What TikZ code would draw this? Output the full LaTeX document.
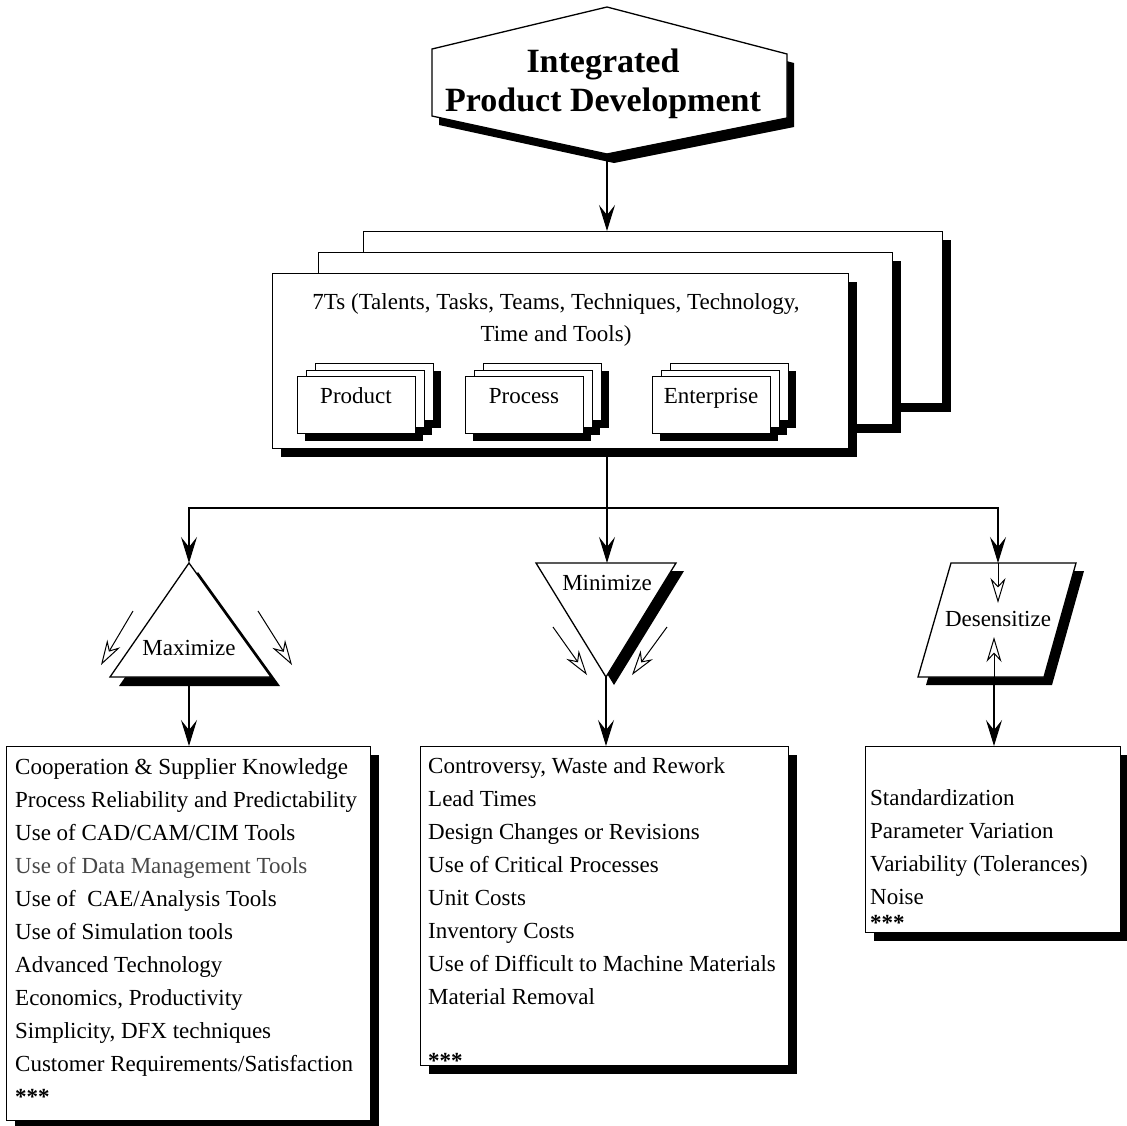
\documentclass[tikz,border=0pt]{standalone}
\usepackage{fontspec}
\setmainfont{Liberation Serif}
\usetikzlibrary{arrows.meta,calc,shadows}

\tikzset{
  outline/.style={draw=black, line width=1.3pt, fill=white},
  dropsh/.style={drop shadow={shadow xshift=8pt, shadow yshift=-8pt, fill=black, opacity=1}},
  card/.style={outline, rectangle, inner sep=0pt, anchor=north west},
  wire/.style={line width=1.3pt, -{Stealth[length=26pt, width=16pt, inset=10pt]}},
  plainwire/.style={line width=1.3pt},
  hollow/.style={line width=1pt, -{Stealth[open, length=25pt, width=15pt, inset=8pt, fill=white]}},
  txt/.style={font=\fontsize{23}{33}\selectfont, inner sep=0pt},
  listtxt/.style={txt, align=left, anchor=north west},
}

% a stack of three cards with one common shadow behind it
\newcommand\cardstack[4]{%
  \foreach \k in {2,1,0}
    \fill[black] (#1+9*\k+8, #2-6.5*\k+8) rectangle ++(118,57);
  \foreach \k in {2,1,0}
    \node[card, minimum width=118pt, minimum height=57pt] (#3\k) at (#1+9*\k, #2-6.5*\k) {};
  \node[txt, anchor=base] (#3lab) at (#1+59, #2+27) {#4};
}

\begin{document}
\begin{tikzpicture}[x=1pt, y=-1pt]
\useasboundingbox (0,0) rectangle (1127,1125);

% title hexagon
\draw[outline, drop shadow={shadow xshift=7pt, shadow yshift=-9pt, fill=black, opacity=1}]
  (432,49) -- (607,7) -- (787,54) -- (787,118) -- (607,154) -- (432,116) -- cycle;
\node[font=\bfseries\fontsize{34}{39}\selectfont, align=center, inner sep=0pt] (ipd) at (603,84)
  {Integrated\\Product Development};
\coordinate (hexbot) at (607,154);

% stacked 7Ts sheets
\node[card, dropsh, minimum width=579pt, minimum height=172pt] (back) at (363,231) {};
\node[card, dropsh, minimum width=574pt, minimum height=172pt] (mid) at (318,252) {};
\node[card, dropsh, minimum width=576pt, minimum height=175pt] (front) at (272,273) {};
\node[txt, align=center, font=\fontsize{23}{32}\selectfont] (seventees) at (556,320)
  {7Ts (Talents, Tasks, Teams, Techniques, Technology,\\Time and Tools)};

\cardstack{297}{376}{prod}{Product}
\cardstack{465}{376}{proc}{Process}
\cardstack{652}{376}{ent}{Enterprise}

\draw[wire] (hexbot) -- (hexbot |- back.north);

% branching
\coordinate (split) at (607,508);
\coordinate (maxtop) at (189,563);
\coordinate (mintop) at (607,563);
\coordinate (destop) at (998,563);
\draw[plainwire] (front.south -| split) -- (split);
\draw[wire] (split) -| (maxtop);
\draw[wire] (split) -- (mintop);
\draw[wire] (split) -| (destop);

% maximize triangle
\draw[outline, drop shadow={shadow xshift=9pt, shadow yshift=-9pt, fill=black, opacity=1}]
  (189,563) -- (271,677) -- (110,677) -- cycle;
\node[txt, anchor=base] (maxlab) at (189,655) {Maximize};
\coordinate (maxout) at (189,686);
\coordinate (mxla) at (133,611); \coordinate (mxlb) at (101,665);
\coordinate (mxra) at (258,611); \coordinate (mxrb) at (292,665);
\draw[hollow] (mxla) -- (mxlb);
\draw[hollow] (mxra) -- (mxrb);

% minimize triangle
\draw[outline, dropsh] (536,563) -- (676,563) -- (606,677) -- cycle;
\node[txt, anchor=base] (minlab) at (607,590) {Minimize};
\coordinate (minout) at (606,677);
\coordinate (mnla) at (553,627); \coordinate (mnlb) at (587,675);
\coordinate (mnra) at (667,627); \coordinate (mnrb) at (632,675);
\draw[hollow] (mnla) -- (mnlb);
\draw[hollow] (mnra) -- (mnrb);

% desensitize parallelogram
\draw[outline, dropsh] (951,563) -- (1076,563) -- (1044,677) -- (918,677) -- cycle;
\node[txt, anchor=base] (deslab) at (998,626) {Desensitize};
\coordinate (desin) at (998,603);
\coordinate (desout) at (994,677);
\coordinate (desup) at (994,637);
\draw[hollow] (destop) -- (desin);
\draw[hollow] (desout) -- (desup);

% result lists
\node[card, dropsh, minimum width=364pt, minimum height=374pt] (llist) at (6,746) {};
\node[card, dropsh, minimum width=368pt, minimum height=319pt] (mlist) at (420,746) {};
\node[card, dropsh, minimum width=255pt, minimum height=186pt] (rlist) at (865,746) {};

\draw[wire] (maxout) -- (maxout |- llist.north);
\draw[wire] (minout) -- (minout |- mlist.north);
\draw[wire] (desout) -- (desout |- rlist.north);

\node[listtxt] (ltext) at (15,757) {\rule{0pt}{17pt}Cooperation \& Supplier Knowledge\\
  Process Reliability and Predictability\\
  Use of CAD/CAM/CIM Tools\\
  \textcolor{black!72}{Use of Data Management Tools}\\
  Use of\ \ CAE/Analysis Tools\\
  Use of Simulation tools\\
  Advanced Technology\\
  Economics, Productivity\\
  Simplicity, DFX techniques\\
  Customer Requirements/Satisfaction\\
  \textbf{***}};

\node[listtxt] (mtext) at (428,756) {\rule{0pt}{17pt}Controversy, Waste and Rework\\
  Lead Times\\
  Design Changes or Revisions\\
  Use of Critical Processes\\
  Unit Costs\\
  Inventory Costs\\
  Use of Difficult to Machine Materials\\
  Material Removal\\[31pt]
  \textbf{***}};

\node[listtxt] (rtext) at (870,788) {\rule{0pt}{17pt}Standardization\\
  Parameter Variation\\
  Variability (Tolerances)\\
  Noise\\[-7pt]
  \textbf{***}};
\end{tikzpicture}
\end{document}
